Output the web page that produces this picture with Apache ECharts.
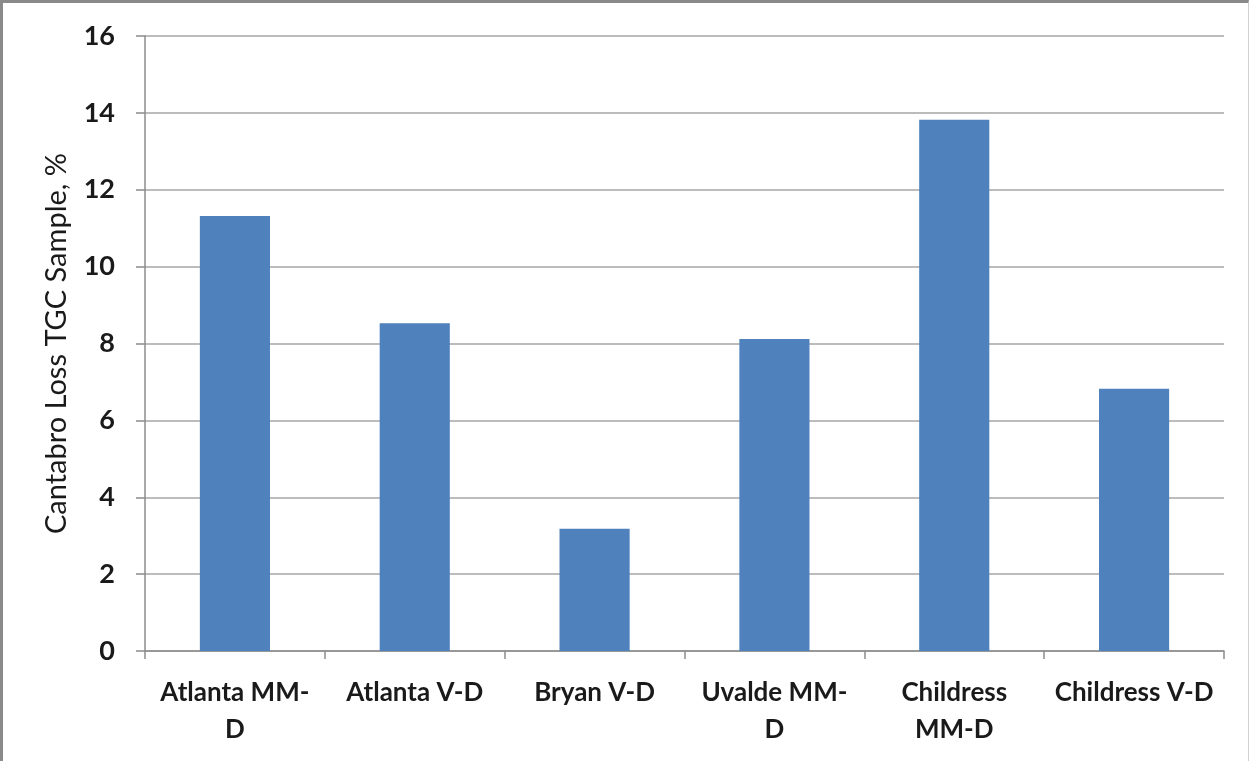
<!DOCTYPE html>
<html>
<head>
<meta charset="utf-8">
<script src="https://cdn.jsdelivr.net/npm/echarts@6/dist/echarts.min.js"></script>
<style>
html,body{margin:0;padding:0;background:#fff;}
#frame{position:absolute;left:0;top:0;width:1249px;height:761px;box-sizing:border-box;border-top:3px solid #8a8a8a;border-left:3px solid #8a8a8a;border-right:1px solid #d0d0d0;}
#chart{position:absolute;left:0;top:0;width:1249px;height:761px;}
</style>
</head>
<body>
<div id="frame"></div>
<div id="chart"></div>
<script>
const categories = ["Atlanta MM-D", "Atlanta V-D", "Bryan V-D", "Uvalde MM-D", "Childress MM-D", "Childress V-D"];
const tickLabels = ["Atlanta MM-\nD", "Atlanta V-D", "Bryan V-D", "Uvalde MM-\nD", "Childress\nMM-D", "Childress V-D"];
const values = [11.32, 8.53, 3.18, 8.12, 13.82, 6.82];
const yTitle = "Cantabro Loss TGC Sample, %";

const chart = echarts.init(document.getElementById('chart'), null, {renderer:'canvas'});
chart.setOption({
  animation:false,
  backgroundColor:'transparent',
  grid:{left:145,right:25,top:36,bottom:110,containLabel:false},
  xAxis:{
    type:'category',
    data:categories,
    axisLine:{lineStyle:{color:'#8c8c8c',width:1.5}},
    axisTick:{show:true,length:8,alignWithLabel:false,lineStyle:{color:'#8c8c8c',width:1.5}},
    axisLabel:{
      formatter:(v,i)=>tickLabels[i],
      color:'#1a1a1a',fontFamily:'Lato',fontWeight:'bold',fontSize:26,
      lineHeight:37,margin:23,interval:0
    }
  },
  yAxis:{
    type:'value',min:0,max:16,interval:2,
    name:yTitle,nameLocation:'middle',nameGap:74,
    nameTextStyle:{color:'#1a1a1a',fontFamily:'Lato',fontSize:29},
    axisLine:{show:true,lineStyle:{color:'#8c8c8c',width:1.5}},
    axisTick:{show:true,length:9,lineStyle:{color:'#8c8c8c',width:1.5}},
    axisLabel:{color:'#1a1a1a',fontFamily:'Lato',fontWeight:'bold',fontSize:27,margin:30},
    splitLine:{show:true,lineStyle:{color:'#a6a6a6',width:1.5}}
  },
  series:[{
    type:'bar',
    data:values,
    barWidth:'39%',
    itemStyle:{color:'#4f81bd'}
  }]
});
</script>
</body>
</html>
